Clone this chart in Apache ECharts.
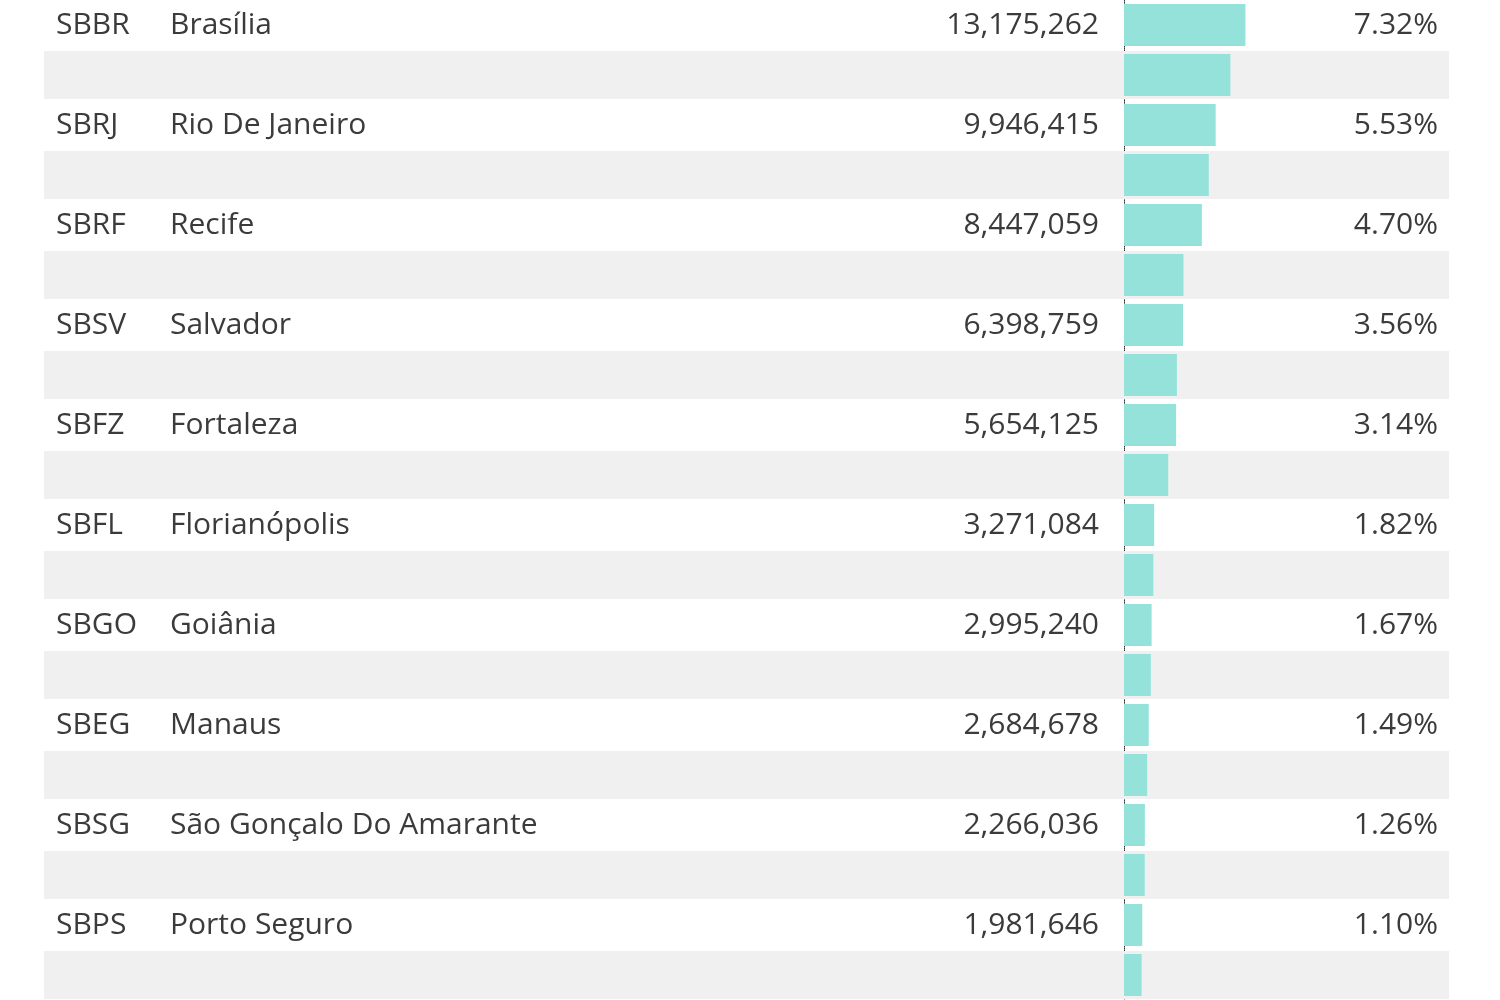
<!DOCTYPE html>
<html lang="en">
<head>
    <meta charset="UTF-8">
    <title>Airports</title>
    <script src="https://cdn.jsdelivr.net/npm/echarts@6/dist/echarts.min.js"></script>
    <style>
        body{margin:0;background:#fff}
        #app{width:1500px;height:1000px}
    </style>
</head>
<body>
    <div id="app"></div>
    <script>
        const codes = ['SBBR','SBKP','SBRJ','SBCF','SBRF','SBPA','SBSV','SBGL','SBFZ','SBCT','SBFL','SBBE','SBGO','SBCY','SBEG','SBVT','SBSG','SBMO','SBPS','SBNF'];
        const cities = ['Brasília','Campinas','Rio De Janeiro','Confins','Recife','Porto Alegre','Salvador','Rio De Janeiro','Fortaleza','São José Dos Pinhais','Florianópolis','Belém','Goiânia','Várzea Grande','Manaus','Vitória','São Gonçalo Do Amarante','Rio Largo','Porto Seguro','Navegantes'];
        const passengers = [13175262,11541929,9946415,9197592,8447059,6453652,6398759,5741210,5654125,4799787,3271084,3179734,2995240,2910162,2684678,2516998,2266036,2248826,1981646,1909750];
        const shares = ['7.32%','6.42%','5.53%','5.11%','4.70%','3.59%','3.56%','3.19%','3.14%','2.67%','1.82%','1.77%','1.67%','1.62%','1.49%','1.40%','1.26%','1.25%','1.10%','1.06%'];

        const rowH = 51.7;
        const gridTop = -3 - rowH / 2;
        const gridHeight = rowH * codes.length;
        const font = '"Open Sans", "Noto Sans", sans-serif';
        const txtColor = '#3b3b3b';

        var myChart = echarts.init(document.getElementById('app'));

        var option = {
            animation: false,
            grid: [
                { left: 44, right: 51, top: gridTop, height: gridHeight },
                { left: 1124, width: 200, top: gridTop, height: gridHeight }
            ],
            xAxis: [
                { gridIndex: 0, type: 'value', min: 0, max: 1, show: false },
                { gridIndex: 1, type: 'value', min: 0, max: 21700000, show: false }
            ],
            yAxis: [
                { gridIndex: 0, type: 'category', data: codes, inverse: true, show: false },
                { gridIndex: 1, type: 'category', data: codes, inverse: true,
                  axisLine: { show: true, lineStyle: { color: '#333', type: 'dotted', width: 1 } },
                  axisTick: { show: false }, axisLabel: { show: false } }
            ],
            series: [
                {
                    // row stripes
                    type: 'bar', xAxisIndex: 0, yAxisIndex: 0, silent: true,
                    barCategoryGap: '4%',
                    itemStyle: { color: '#f0f0f0' },
                    data: codes.map((c, i) => i % 2 === 1 ? 1 : 0)
                },
                {
                    type: 'custom', xAxisIndex: 0, yAxisIndex: 0, silent: true,
                    data: codes.map((c, i) => [0, i]),
                    renderItem(params, api) {
                        const i = api.value(1);
                        const y = api.coord([0, i])[1];
                        const st = (x, text, align) => ({
                            type: 'text', x: x, y: y,
                            style: { text: text, fill: txtColor, font: '30px ' + font,
                                     textAlign: align, textVerticalAlign: 'middle' }
                        });
                        return { type: 'group', children: [
                            st(56, codes[i], 'left'),
                            st(170, cities[i], 'left'),
                            st(1099, passengers[i].toLocaleString('en-US'), 'right'),
                            st(1438, shares[i], 'right')
                        ]};
                    }
                },
                {
                    type: 'bar', xAxisIndex: 1, yAxisIndex: 1,
                    barCategoryGap: '16%',
                    itemStyle: { color: '#94e2da' },
                    data: passengers
                }
            ]
        };

        myChart.setOption(option);
    </script>
</body>
</html>
